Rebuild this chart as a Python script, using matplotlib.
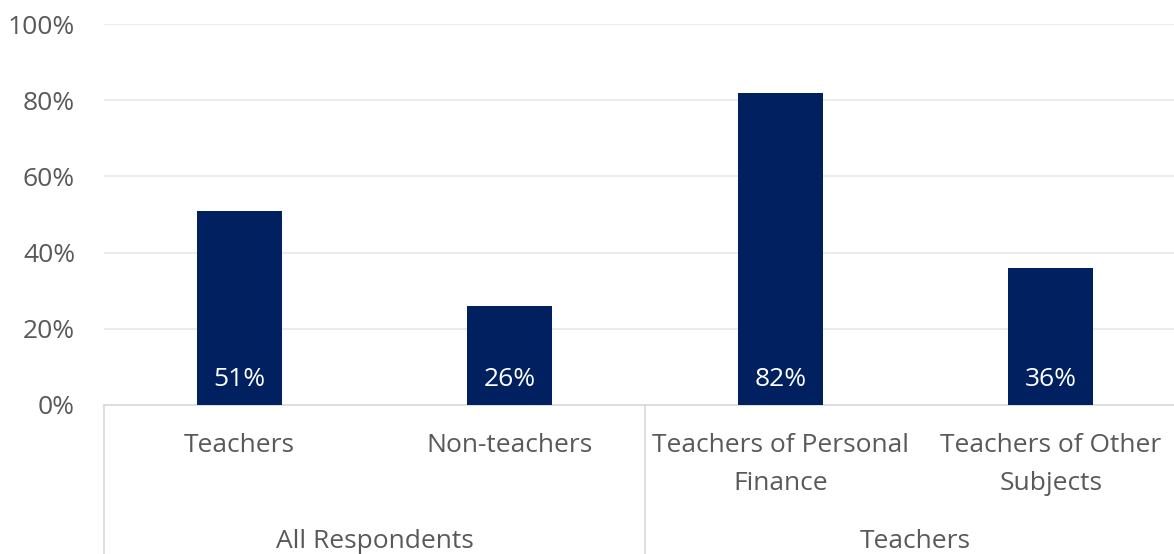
import matplotlib.pyplot as plt

categories = ["Teachers", "Non-teachers", "Teachers of Personal\nFinance", "Teachers of Other\nSubjects"]
values = [51, 26, 82, 36]
groups = ["All Respondents", "Teachers"]
group_sizes = [2, 2]
yticks = [0, 20, 40, 60, 80, 100]

plt.rcParams['font.family'] = ['Open Sans', 'DejaVu Sans']
bar_color = "#002060"
text_color = "#595959"
fs = 19

fig = plt.figure(figsize=(11.74, 5.54), dpi=100)
ax = fig.add_axes([104.25 / 1174, 149 / 554, 1 - 104.25 / 1174, 381 / 554])

def px_to_axes(ypx):
    # pixel row in the figure -> axes fraction (axis bottom at row 405, height 381)
    return (405 - ypx) / 381

x = list(range(len(values)))
ax.bar(x, values, width=0.314, color=bar_color, zorder=3)
for xi, v in zip(x, values):
    ax.text(xi, 4.9, f"{v}%", ha="center", va="baseline", color="white", fontsize=fs, zorder=4)

ax.set_xlim(-0.5, 3.5 - 12 / 270.5)
ax.set_ylim(0, 100)
ax.set_yticks(yticks)
ax.set_yticklabels([f"{t}%" for t in yticks])
ax.tick_params(axis="y", length=0, pad=21, labelsize=fs, labelcolor=text_color)
ax.set_xticks([])
ax.grid(axis="y", color="#e8e8e8", linewidth=1.2, zorder=0)
for s in ["top", "right", "left"]:
    ax.spines[s].set_visible(False)
ax.spines["bottom"].set_color("#d9d9d9")
ax.spines["bottom"].set_linewidth(1.2)

trans = ax.get_xaxis_transform()
for xi, c in zip(x, categories):
    for i, line in enumerate(c.split("\n")):
        ax.text(xi, px_to_axes(452.5 + 38 * i), line, transform=trans, ha="center",
                va="baseline", fontsize=fs, color=text_color)

start = -0.5
for g, n in zip(groups, group_sizes):
    ax.text(start + n / 2, px_to_axes(547.5), g, transform=trans, ha="center",
            va="baseline", fontsize=fs, color=text_color)
    ax.plot([start, start], [0, -0.4], transform=trans, color="#d9d9d9",
            linewidth=1.2, clip_on=False)
    start += n
ax.plot([start, start], [0, -0.4], transform=trans, color="#d9d9d9",
        linewidth=1.2, clip_on=False)

fig.savefig("out.png", dpi=100)
